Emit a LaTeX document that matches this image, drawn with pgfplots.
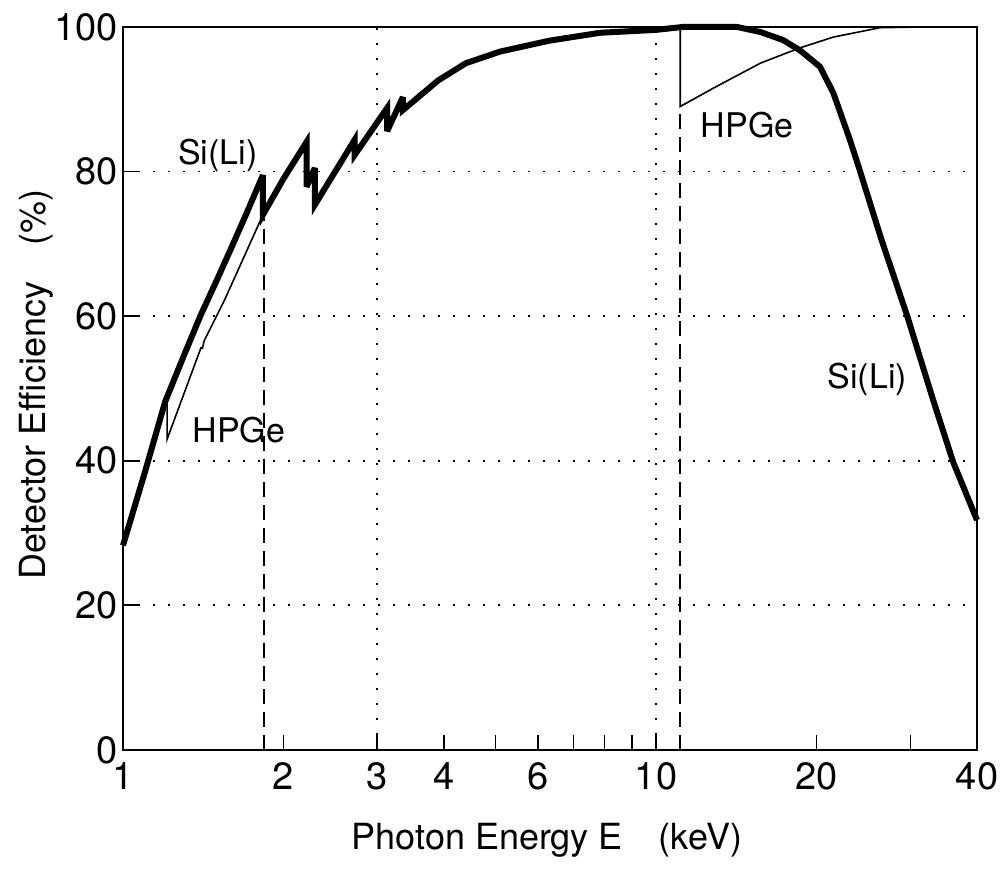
\documentclass[border=0pt]{standalone}
\usepackage{fontspec}
\setmainfont{TeX Gyre Heros}
\usepackage{pgfplots}
\pgfplotsset{compat=1.18}

% Si(Li) detector efficiency (thick curve)
\pgfplotstableread{
E eff
1.00 28.3
1.10 38.5
1.20 48.2
1.30 54.5
1.40 60.2
1.50 65.0
1.60 69.6
1.70 74.0
1.83 79.5
1.83 74.0
2.00 79.0
2.21 84.1
2.21 77.9
2.29 80.5
2.29 75.4
2.72 84.4
2.72 82.3
3.13 88.8
3.13 85.6
3.35 90.3
3.35 88.5
3.90 92.6
4.40 95.0
5.10 96.6
6.30 98.1
7.85 99.2
10.0 99.6
11.2 100
14.2 100
15.7 99.3
17.3 98.2
18.6 96.8
20.3 94.5
21.5 90.9
23.1 84.4
24.1 80.2
26.5 70.5
29.6 60.0
33.1 48.4
36.1 39.8
40.0 31.8
}\silitable

% HPGe detector, where it leaves the Si(Li) curve (thin curve)
\pgfplotstableread{
E eff
1.21 48.2
1.21 43.0
1.40 55.6
1.41 55.6
1.42 56.6
1.55 62.2
1.83 74.0
}\hpgelow

\pgfplotstableread{
E eff
11.1 100
11.1 89.0
13.0 91.8
15.7 95.0
18.6 97.1
21.5 98.6
26.3 99.9
31.3 100
40.0 100
}\hpgehigh

\begin{document}
\begin{tikzpicture}
\useasboundingbox (-61.5pt,-61pt) rectangle (438.5pt,375pt);
\begin{axis}[
  at={(0pt,0pt)}, anchor=south west,
  width=427pt, height=361.5pt, scale only axis,
  xmode=log, xmin=1, xmax=40, ymin=0, ymax=100,
  xtick={1,2,3,4,6,10,20,40},
  xticklabels={1,2,3,4,6,10,20,40},
  minor xtick={5,7,8,9,30},
  ytick={0,20,40,60,80,100},
  tick pos=left, tick align=inside,
  major tick length=7.5pt, minor tick length=7.5pt,
  tick style={black, line width=0.9pt},
  axis line style={line width=1pt},
  ymajorgrids,
  grid style={black, dash pattern=on 1pt off 6.5pt, line width=0.9pt},
  /pgf/number format/assume math mode=true,
  ticklabel style={font=\fontsize{19}{22}\selectfont},
  xticklabel style={yshift=-2.5pt},
  yticklabel style={xshift=0.8pt},
  ylabel={Detector Efficiency\quad(\%)},
  every axis y label/.style={at={(axis description cs:-0.0913,0.505)}, rotate=90, anchor=base, font=\fontsize{18}{21}\selectfont},
  clip=false,
]
% vertical dotted grid lines at 3 and 10 keV
\addplot[black, dash pattern=on 1pt off 6.5pt, line width=0.9pt] coordinates {(3,0) (3,100)};
\addplot[black, dash pattern=on 1pt off 6.5pt, line width=0.9pt] coordinates {(10,0) (10,100)};
% absorption edges: Si K and Ge K
\addplot[black, dash pattern=on 7.5pt off 4pt, line width=1.2pt] coordinates {(1.84,0) (1.84,74)};
\addplot[black, dash pattern=on 7.5pt off 4pt, line width=1.2pt] coordinates {(11.1,0) (11.1,89)};

\addplot[black, line width=0.8pt] table[x=E, y=eff] {\hpgelow};
\addplot[black, line width=0.8pt] table[x=E, y=eff] {\hpgehigh};
\addplot[black, line width=3pt, line join=miter, miter limit=4] table[x=E, y=eff] {\silitable};

\node[font=\fontsize{17}{20}\selectfont] at (axis cs:1.507,82.3) {Si(Li)};
\node[font=\fontsize{17}{20}\selectfont] at (axis cs:1.65,44.3) {HPGe};
\node[font=\fontsize{17}{20}\selectfont] at (axis cs:14.82,86.4) {HPGe};
\node[font=\fontsize{17}{20}\selectfont] at (axis cs:24.9,51.2) {Si(Li)};
\end{axis}
% x axis label
\node[anchor=base, font=\fontsize{18}{21}\selectfont] at (212pt,-49.5pt) {Photon Energy E\quad(keV)};
\end{tikzpicture}
\end{document}
